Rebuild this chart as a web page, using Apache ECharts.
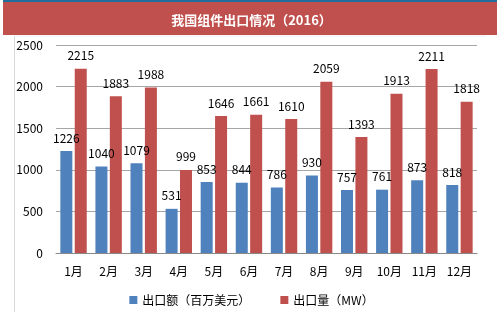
<!DOCTYPE html>
<html><head><meta charset="utf-8">
<script src="https://cdn.jsdelivr.net/npm/echarts@6/dist/echarts.min.js"></script>
<style>html,body{margin:0;padding:0;background:#fff}#c{width:503px;height:326px}</style>
</head><body><div id="c"></div>
<script>
var categories = ['1月','2月','3月','4月','5月','6月','7月','8月','9月','10月','11月','12月'];
var exportValue = [1226,1040,1079,531,853,844,786,930,757,761,873,818];
var exportVolume = [2215,1883,1988,999,1646,1661,1610,2059,1393,1913,2211,1818];
var yTicks = [0,500,1000,1500,2000,2500];
var seriesNames = ['出口额（百万美元）','出口量（MW）'];
var titleText = '我国组件出口情况（2016）';

var chart = echarts.init(document.getElementById('c'));
var font = '"Noto Sans CJK SC", sans-serif';
chart.setOption({
  animation: false,
  graphic: [
    {type:'rect', shape:{x:3,y:0,width:494,height:2}, style:{fill:'#1F6E9C'}},
    {type:'rect', shape:{x:3,y:2,width:494,height:33}, style:{fill:'#C0504D'}},
    {type:'line', shape:{x1:14.5,y1:36,x2:14.5,y2:312}, style:{stroke:'#D9D9D9',lineWidth:1}},
    {type:'line', shape:{x1:14,y1:36,x2:486,y2:36}, style:{stroke:'#EEEEEE',lineWidth:1}}
  ],
  title: {text: titleText, left: 'center', top: 9,
    textStyle:{color:'#fff', fontSize:13, fontWeight:'bold', fontFamily: font}},
  legend: {bottom: 15, left: 'center', itemWidth: 8, itemHeight: 8, itemGap: 30,
    icon: 'rect',
    textStyle:{fontSize:12, color:'#000', fontFamily: font}},
  grid: {left: 56, right: 26, top: 45, bottom: 73},
  xAxis: {type:'category', data: categories,
    axisLine:{lineStyle:{color:'#888'}}, axisTick:{show:false},
    axisLabel:{color:'#000', fontSize:12, margin:12, fontFamily: font}},
  yAxis: {type:'value', min:0, max:2500, interval:500,
    axisLine:{show:false}, axisTick:{show:false},
    splitLine:{lineStyle:{color:'#A6A6A6'}},
    axisLabel:{color:'#000', fontSize:12, margin:13, fontFamily: font,
      formatter: function(v){ return String(v); }}},
  series: [
    {name: seriesNames[0], type:'bar', data: exportValue, barWidth: 12, barGap:'20%',
     itemStyle:{color:'#4F81BD'},
     label:{show:true, position:'top', color:'#000', fontSize:12, distance:7, fontFamily: font}},
    {name: seriesNames[1], type:'bar', data: exportVolume, barWidth: 12,
     itemStyle:{color:'#C0504D'},
     label:{show:true, position:'top', color:'#000', fontSize:12, distance:7, fontFamily: font}}
  ]
});
</script></body></html>
